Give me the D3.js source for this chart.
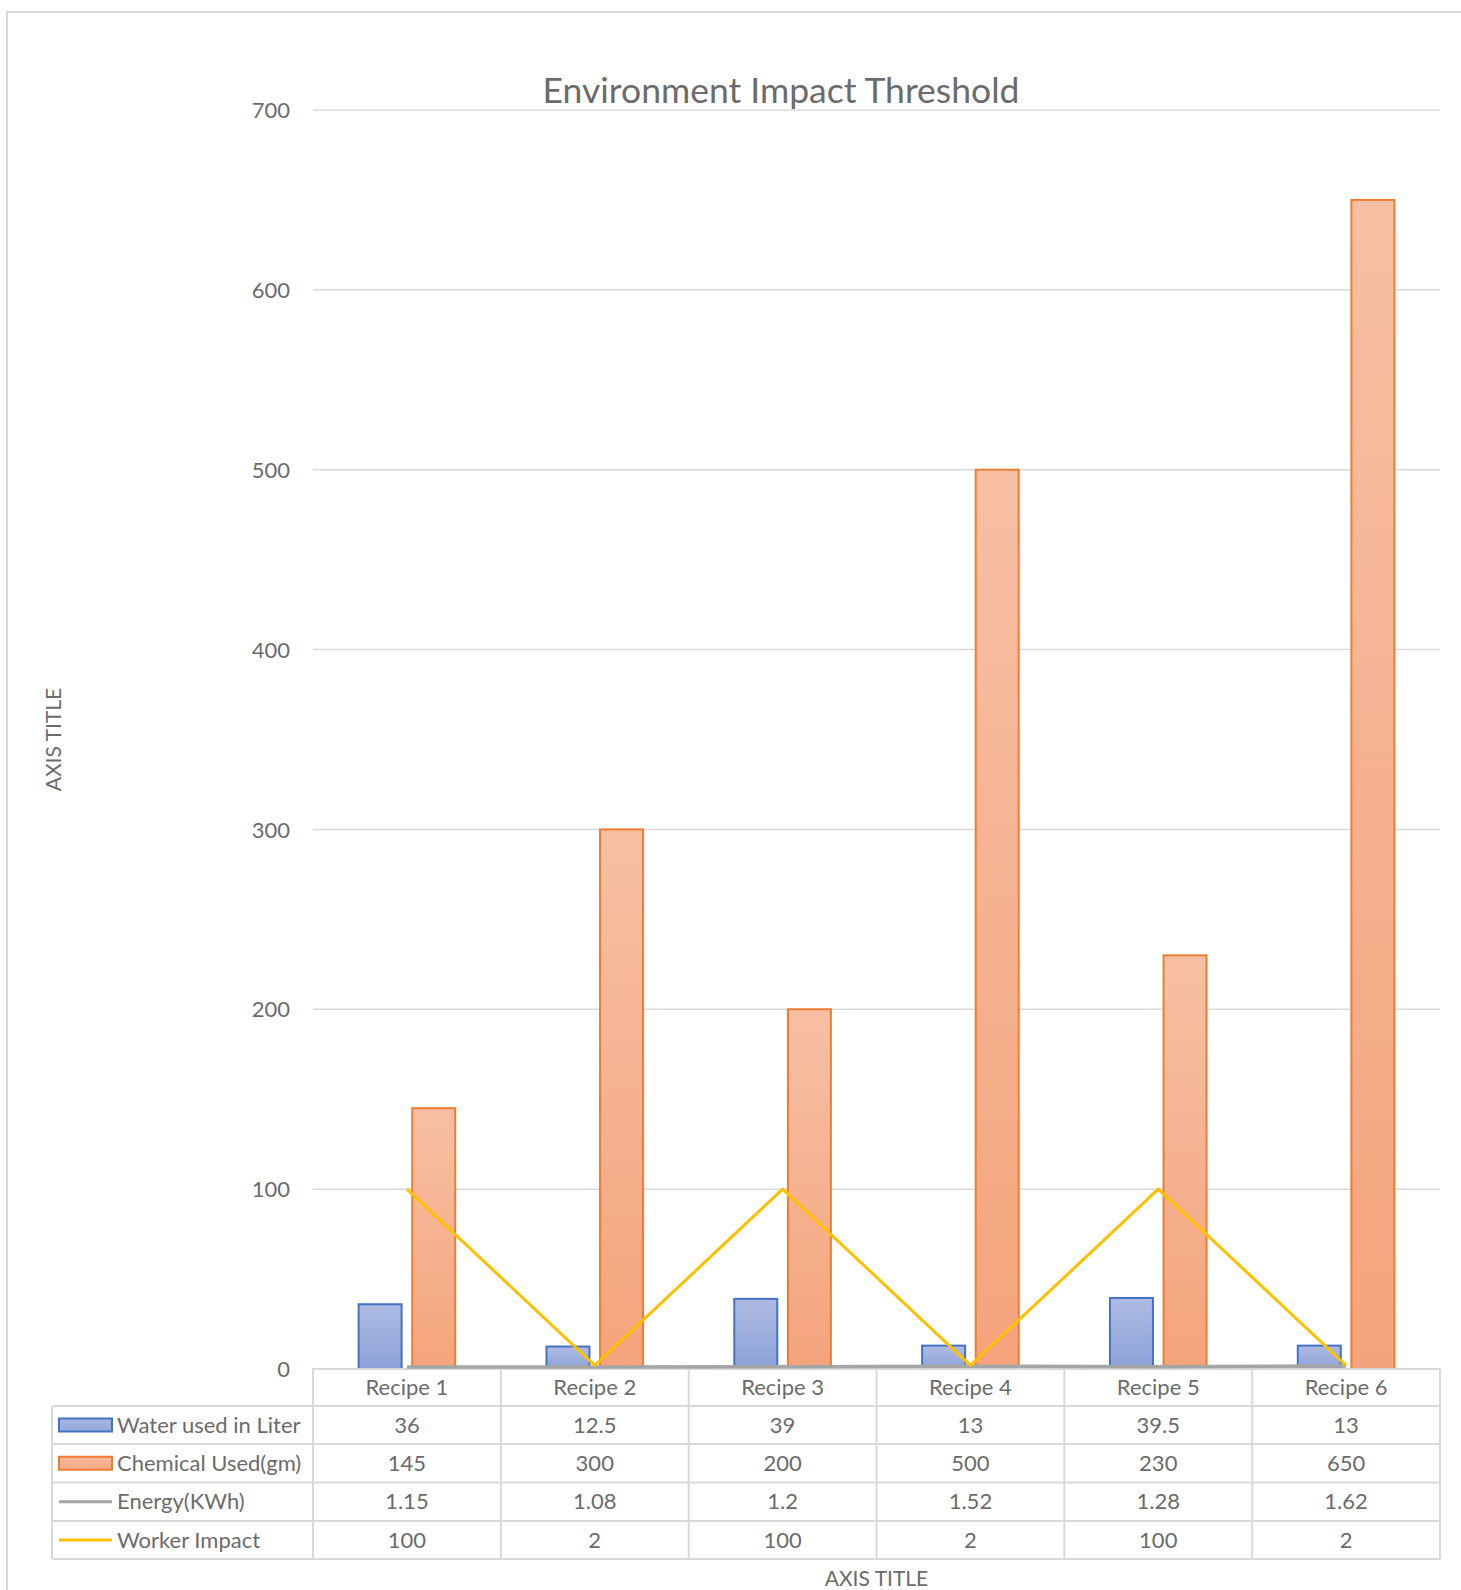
<!DOCTYPE html>
<html>
<head>
<meta charset="utf-8">
<script src="https://cdn.jsdelivr.net/npm/d3@7"></script>
<style>
  html, body { margin: 0; padding: 0; background: #fff; }
  svg { display: block; }
  text { font-family: Lato, "Open Sans", "Noto Sans", sans-serif; fill: #6b6b6b; }
</style>
</head>
<body>
<svg id="chart" width="1461" height="1590"></svg>
<script>
const categories = ["Recipe 1", "Recipe 2", "Recipe 3", "Recipe 4", "Recipe 5", "Recipe 6"];
const water = [36, 12.5, 39, 13, 39.5, 13];
const chemical = [145, 300, 200, 500, 230, 650];
const energy = [1.15, 1.08, 1.2, 1.52, 1.28, 1.62];
const worker = [100, 2, 100, 2, 100, 2];
const seriesNames = ["Water used in Liter", "Chemical Used(gm)", "Energy(KWh)", "Worker Impact"];
const yTicks = [0, 100, 200, 300, 400, 500, 600, 700];
const titleText = "Environment Impact Threshold";
const axisTitleText = "AXIS TITLE";

const svg = d3.select("#chart");
const W = 1461, H = 1590;
const plotL = 313, plotR = 1440, plotT = 110, plotB = 1369;
const tableL = 52;
const rowEdges = [1369, 1406, 1444, 1482.5, 1521, 1559];
const textColor = "#6b6b6b";

const x = d3.scaleBand().domain(categories).range([plotL, plotR]).padding(0);
const y = d3.scaleLinear().domain([0, 700]).range([plotB, plotT]);

// defs: gradients
const defs = svg.append("defs");
function grad(id, top, bottom) {
  const g = defs.append("linearGradient").attr("id", id)
    .attr("x1", 0).attr("y1", 0).attr("x2", 0).attr("y2", 1);
  g.append("stop").attr("offset", "0%").attr("stop-color", top);
  g.append("stop").attr("offset", "100%").attr("stop-color", bottom);
}
grad("gWater", "#aebbe3", "#8da2d8");
grad("gChem", "#f7bfa4", "#f4a47c");
grad("gWaterKey", "#a9b7e1", "#93a7da");
grad("gChemKey", "#f6b89b", "#f5a985");

// chart border (top and left)
svg.append("path")
  .attr("d", `M7,${H} L7,12 L${W},12`)
  .attr("fill", "none").attr("stroke", "#d9d9d9").attr("stroke-width", 2);

// gridlines
svg.append("g").selectAll("line").data(yTicks.filter(d => d > 0)).join("line")
  .attr("x1", plotL).attr("x2", plotR)
  .attr("y1", d => y(d)).attr("y2", d => y(d))
  .attr("stroke", "#d9d9d9").attr("stroke-width", 1.5);

// y axis labels
const yAxis = d3.axisLeft(y).tickValues(yTicks).tickSize(0).tickPadding(0);
const yg = svg.append("g").attr("transform", `translate(290,0)`).call(yAxis);
yg.select(".domain").remove();
yg.selectAll("text").attr("font-size", 22).attr("fill", textColor)
  .attr("font-family", "Lato, 'Open Sans', sans-serif").attr("dy", "0.35em");

// bars
const bw = 43, off = 26.8;
svg.append("g").selectAll("rect").data(water).join("rect")
  .attr("x", (d, i) => x(categories[i]) + x.bandwidth() / 2 - off - bw / 2)
  .attr("y", d => y(d))
  .attr("width", bw)
  .attr("height", d => y(0) - y(d))
  .attr("fill", "url(#gWater)").attr("stroke", "#4472c4").attr("stroke-width", 2);

svg.append("g").selectAll("rect").data(chemical).join("rect")
  .attr("x", (d, i) => x(categories[i]) + x.bandwidth() / 2 + off - bw / 2)
  .attr("y", d => y(d))
  .attr("width", bw)
  .attr("height", d => y(0) - y(d))
  .attr("fill", "url(#gChem)").attr("stroke", "#ed7d31").attr("stroke-width", 2);

// table grid
const tg = svg.append("g").attr("stroke", "#d9d9d9").attr("stroke-width", 2);
tg.append("line").attr("x1", plotL - 1).attr("x2", plotR).attr("y1", rowEdges[0]).attr("y2", rowEdges[0]);
rowEdges.slice(1).forEach(r => {
  tg.append("line").attr("x1", tableL).attr("x2", plotR).attr("y1", r).attr("y2", r);
});
tg.append("line").attr("x1", tableL).attr("x2", tableL).attr("y1", rowEdges[1]).attr("y2", rowEdges[5]);
const colEdges = categories.map(c => x(c)).concat([plotR]);
colEdges.forEach(cx => {
  tg.append("line").attr("x1", cx).attr("x2", cx).attr("y1", rowEdges[0]).attr("y2", rowEdges[5]);
});

// lines
const lineGen = d3.line().x((d, i) => x(categories[i]) + x.bandwidth() / 2).y(d => y(d));
svg.append("path").datum(energy).attr("d", lineGen)
  .attr("fill", "none").attr("stroke", "#a5a5a5").attr("stroke-width", 3.5);
svg.append("path").datum(worker).attr("d", lineGen)
  .attr("fill", "none").attr("stroke", "#ffc000").attr("stroke-width", 3)
  .attr("stroke-linejoin", "round");

// header row: category labels
const rowMid = i => (rowEdges[i] + rowEdges[i + 1]) / 2;
svg.append("g").selectAll("text").data(categories).join("text")
  .attr("x", d => x(d) + x.bandwidth() / 2)
  .attr("y", rowMid(0)).attr("dy", "0.35em")
  .attr("text-anchor", "middle").attr("font-size", 22)
  .text(d => d);

// data rows
const rows = [water, chemical, energy, worker];
rows.forEach((vals, r) => {
  svg.append("g").selectAll("text").data(vals).join("text")
    .attr("x", (d, i) => x(categories[i]) + x.bandwidth() / 2)
    .attr("y", rowMid(r + 1)).attr("dy", "0.35em")
    .attr("text-anchor", "middle").attr("font-size", 22)
    .text(d => String(d));
});

// legend keys and names
const keyX = 59, keyW = 53;
seriesNames.forEach((name, r) => {
  const cy = rowMid(r + 1);
  if (r === 0) {
    svg.append("rect").attr("x", keyX).attr("y", cy - 6.5).attr("width", keyW).attr("height", 13)
      .attr("fill", "url(#gWaterKey)").attr("stroke", "#4472c4").attr("stroke-width", 2);
  } else if (r === 1) {
    svg.append("rect").attr("x", keyX).attr("y", cy - 6.5).attr("width", keyW).attr("height", 13)
      .attr("fill", "url(#gChemKey)").attr("stroke", "#ed7d31").attr("stroke-width", 2);
  } else {
    svg.append("line").attr("x1", keyX).attr("x2", keyX + keyW).attr("y1", cy).attr("y2", cy)
      .attr("stroke", r === 2 ? "#a5a5a5" : "#ffc000").attr("stroke-width", 3);
  }
  svg.append("text").attr("x", 117).attr("y", cy).attr("dy", "0.35em")
    .attr("font-size", 22).text(name);
});

// title
svg.append("text").attr("x", 781).attr("y", 103)
  .attr("text-anchor", "middle").attr("font-size", 35.5).text(titleText);

// axis titles
svg.append("text").attr("x", (plotL + plotR) / 2).attr("y", 1586)
  .attr("text-anchor", "middle").attr("font-size", 21).text(axisTitleText);
svg.append("text")
  .attr("transform", `translate(61,${(plotT + plotB) / 2}) rotate(-90)`)
  .attr("text-anchor", "middle").attr("font-size", 21).text(axisTitleText);
</script>
</body>
</html>
